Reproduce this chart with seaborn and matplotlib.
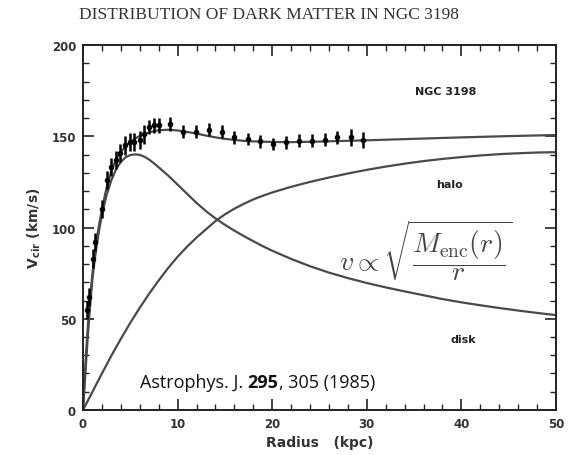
import matplotlib
matplotlib.use("Agg")
import matplotlib.pyplot as plt
from matplotlib.ticker import MultipleLocator
import seaborn as sns
import pandas as pd

# Observed rotation velocities of NGC 3198
obs_r = [0.4, 0.6, 1.1, 1.3, 2.0, 2.5, 3.0, 3.5, 3.9, 4.4, 5.0, 5.4, 6.0, 6.5,
         7.0, 7.5, 8.0, 9.2, 10.6, 11.9, 13.3, 14.7, 16.0, 17.4, 18.7, 20.1,
         21.5, 22.8, 24.2, 25.6, 26.9, 28.3, 29.6]
obs_v = [55, 62, 83, 92, 110, 126, 133, 137, 141, 145, 147, 147, 148, 151,
         155, 156, 156, 156.7, 152.5, 152.5, 153.6, 152.5, 149.4, 148.5,
         147.2, 145.8, 146.7, 147.6, 147.6, 148.1, 149.4, 149.4, 148.1]
obs_err = [5, 5, 5, 5, 5, 5, 5, 5, 5, 5, 5, 5, 5, 5,
           4, 4, 4, 4, 3.5, 3.5, 3.5, 3.5, 3.5, 3.5, 3.5, 3.5,
           3.5, 3.5, 3.5, 3.5, 3.5, 4.5, 4.5]

# Model components: total fit, exponential disk, dark halo
fit_r = [0, 0.25, 0.5, 0.75, 1, 1.25, 1.5, 1.75, 2, 2.5, 3, 3.5, 4, 4.5, 5,
         5.5, 6, 7, 8, 9, 10, 11, 12, 13, 14, 15, 16, 17, 18, 20, 22, 25, 30,
         35, 40, 45, 50]
fit_v = [0, 25, 45, 62, 75, 86, 95, 103, 110, 122, 131, 137.5, 141.5, 144.5,
         146.8, 148.7, 150.2, 152.2, 153.3, 153.6, 153.2, 152.4, 151.5, 150.4,
         149.4, 148.6, 148, 147.5, 147.2, 146.9, 146.8, 147.1, 147.8, 148.6,
         149.4, 150.1, 150.7]

disk_r = [0, 0.25, 0.5, 0.75, 1, 1.25, 1.5, 1.75, 2, 2.5, 3, 3.5, 4, 4.5, 5,
          5.5, 6, 6.5, 7, 7.5, 8, 9, 10, 11, 12, 13, 14, 15, 16, 17, 18, 19,
          20, 22, 24, 26, 28, 30, 32, 34, 36, 38, 40, 42, 44, 46, 48, 50]
disk_v = [0, 20, 40, 57, 72, 83, 92, 100, 107, 118, 126, 132, 136, 138.5,
          139.7, 140.1, 139.8, 138.8, 137.2, 135.2, 133, 128.5, 123.5, 118.5,
          113.5, 109, 105, 101.5, 98.3, 95.3, 92.5, 89.8, 87.3, 82.8, 78.8,
          75.3, 72.3, 69.6, 67.2, 65, 62.9, 60.8, 59, 57.4, 55.9, 54.5, 53.2,
          52]

halo_r = [0, 1, 2, 3, 4, 5, 6, 7, 8, 9, 10, 11, 12, 13, 14, 15, 16, 17, 18,
          19, 20, 22, 24, 26, 28, 30, 32, 34, 36, 38, 40, 42, 44, 46, 48, 50]
halo_v = [0, 10, 20, 29.8, 39, 47.8, 56, 63.8, 71, 77.8, 84, 89.5, 94.5, 99,
          103.5, 107.2, 110.3, 113, 115.4, 117.4, 119.2, 122.3, 125, 127.4,
          129.6, 131.6, 133.4, 135, 136.4, 137.6, 138.6, 139.5, 140.2, 140.7,
          141.1, 141.3]

sns.set_theme(style="ticks")
plt.rcParams["mathtext.fontset"] = "cm"
plt.rcParams["font.family"] = ["DejaVu Sans"]

fig = plt.figure(figsize=(5.69, 4.56), dpi=100)
ax = fig.add_axes([0.1459, 0.0987, 0.8311, 0.8003])

curve_color = "#4a4a4a"
for r, v in [(fit_r, fit_v), (disk_r, disk_v), (halo_r, halo_v)]:
    sns.lineplot(data=pd.DataFrame({"r": r, "v": v}), x="r", y="v", ax=ax,
                 color=curve_color, lw=1.6, sort=False)

ax.errorbar(obs_r, obs_v, yerr=obs_err, fmt="none", ecolor="black",
            elinewidth=1.8, capsize=0, zorder=4)
sns.scatterplot(x=obs_r, y=obs_v, ax=ax, color="black", s=16, marker="o",
                edgecolor="black", linewidth=0, zorder=5)

ax.set_xlim(0, 50)
ax.set_ylim(0, 200)
ax.xaxis.set_major_locator(MultipleLocator(10))
ax.xaxis.set_minor_locator(MultipleLocator(2))
ax.yaxis.set_major_locator(MultipleLocator(50))
ax.yaxis.set_minor_locator(MultipleLocator(10))
ax.tick_params(which="both", direction="in", top=True, right=True,
               color="#222222", labelsize=8.5, pad=5)
ax.tick_params(which="major", length=8, width=1.2)
ax.tick_params(which="minor", length=4, width=1.0)
for lab in ax.get_xticklabels() + ax.get_yticklabels():
    lab.set_fontweight("bold")
    lab.set_color("#333333")
for sp in ax.spines.values():
    sp.set_linewidth(1.4)
    sp.set_color("#222222")

ax.set_xlabel("Radius   (kpc)", fontsize=10, fontweight="bold",
              color="#333333", labelpad=4)
ax.set_ylabel(r"V$_{\mathregular{cir}}$ (km/s)", fontsize=10,
              fontweight="bold", color="#333333", labelpad=6)

fig.text(0.473, 0.967, "DISTRIBUTION OF DARK MATTER IN NGC 3198",
         ha="center", va="center", fontsize=12.5, family="Liberation Serif",
         color="#333333")

ax.text(38.3, 174.8, "NGC 3198", ha="center", va="center", fontsize=8,
        fontweight="bold", color="#222222")
ax.text(38.8, 123.8, "halo", ha="center", va="center", fontsize=8,
        fontweight="bold", color="#222222")
ax.text(40.2, 39, "disk", ha="center", va="center", fontsize=8,
        fontweight="bold", color="#222222")
ax.text(36.2, 88, r"$v \propto \sqrt{\dfrac{M_{\rm enc}(r)}{r}}$",
        ha="center", va="center", fontsize=20, color="#444444")

# Citation line: journal, bold volume, page and year
ref_kw = dict(fontsize=13, family="Open Sans", color="#111111", va="bottom")
t1 = ax.text(6.0, 10.5, "Astrophys. J. ", ha="left", **ref_kw)
t2 = ax.annotate("295", xy=(1, 0), xycoords=t1, ha="left",
                 fontweight="bold", **ref_kw)
ax.annotate(", 305 (1985)", xy=(1, 0), xycoords=t2, ha="left", **ref_kw)

fig.savefig("out.png", dpi=100, facecolor="white")
